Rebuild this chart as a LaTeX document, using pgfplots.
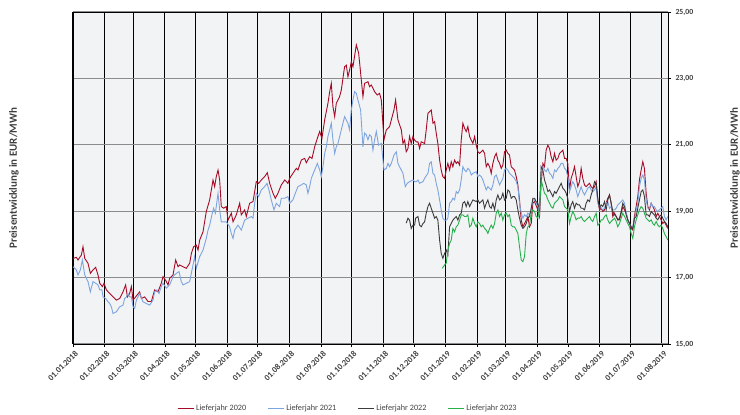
\documentclass[border=0pt]{standalone}
\usepackage{pgfplots}
\pgfplotsset{compat=1.18}
\usepackage{fontspec}
\setmainfont{Carlito}
\definecolor{c20}{RGB}{166,10,38}
\definecolor{c21}{RGB}{124,164,222}
\definecolor{c22}{RGB}{60,60,60}
\definecolor{c23}{RGB}{38,176,76}
\definecolor{bgc}{RGB}{242,243,245}
\definecolor{txt}{RGB}{64,64,64}
\begin{document}
\begin{tikzpicture}
\useasboundingbox (-73pt,-71pt) rectangle (667pt,344pt);
\begin{axis}[
  at={(0,0)}, anchor=south west,
  scale only axis, width=595pt, height=332pt,
  xmin=0, xmax=583, ymin=15, ymax=25,
  axis background/.style={fill=bgc},
  axis line style={black, line width=0.8pt},
  xtick={0,31,59,90,120,151,181,212,243,273,304,334,365,396,424,455,485,516,546,577},
  xticklabels={01.01.2018,01.02.2018,01.03.2018,01.04.2018,01.05.2018,01.06.2018,01.07.2018,01.08.2018,01.09.2018,01.10.2018,01.11.2018,01.12.2018,01.01.2019,01.02.2019,01.03.2019,01.04.2019,01.05.2019,01.06.2019,01.07.2019,01.08.2019},
  ytick={15,17,19,21,23,25},
  xtick pos=bottom, ytick pos=right, yticklabel pos=right,
  tick align=outside, major tick length=3pt,
  tick style={black, line width=0.6pt},
  xmajorgrids, ymajorgrids,
  x grid style={black, line width=1pt},
  y grid style={gray!90, line width=1.2pt},
  xticklabel style={rotate=45, anchor=north east, font=\fontsize{8.4}{10}\selectfont\bfseries, text=txt, inner sep=1pt, yshift=-2pt},
  yticklabel style={font=\fontsize{7.8}{9}\selectfont\bfseries, text=txt, xshift=1pt},
  /pgf/number format/assume math mode=true,
  yticklabel={\pgfmathprintnumber[fixed, fixed zerofill, precision=2, use comma]{\tick}},
  legend style={at={(0.462,-0.193)}, anchor=center, draw=none, fill=none, legend columns=4,
    font=\fontsize{8.2}{10}\selectfont, text=txt, inner sep=0pt,
    /tikz/every even column/.append style={column sep=19pt}},
  legend image code/.code={\draw[#1, line width=1pt] (0pt,0pt) -- (16pt,0pt);},
  every axis plot/.append style={line width=0.9pt},
  clip mode=individual,
]
\addplot[c20] coordinates {(0,17.58)(3.3,17.61)(4.9,17.53)(8.2,17.68)(9.8,17.93)(11.5,17.58)(14.7,17.43)(17.0,17.13)(19.6,17.23)(22.2,17.31)(24.5,17.08)(26.2,16.83)(28.8,16.73)(30.4,16.83)(32.7,16.63)(36.0,16.52)(39.2,16.42)(42.5,16.32)(45.7,16.37)(49.0,16.57)(51.6,16.78)(53.3,16.42)(55.5,16.52)(57.2,16.73)(58.8,16.32)(61.4,16.42)(65.3,16.57)(67.0,16.37)(70.2,16.42)(73.5,16.28)(76.8,16.28)(80.0,16.63)(83.3,16.57)(86.5,16.83)(88.2,17.03)(91.5,16.88)(93.1,16.78)(94.7,16.98)(98.0,17.08)(100.6,17.53)(102.9,17.33)(104.5,17.38)(107.8,17.33)(111.0,17.28)(114.3,17.43)(116.0,17.73)(118.2,17.93)(120.8,17.98)(122.5,17.83)(124.1,18.13)(127.4,18.38)(130.6,18.99)(133.9,19.34)(137.2,19.94)(138.8,19.74)(140.4,20.04)(142.1,20.24)(143.7,19.94)(145.3,19.14)(147.6,19.09)(150.2,19.14)(151.9,18.73)(155.1,18.94)(156.8,18.68)(160.0,18.89)(163.3,19.24)(164.9,18.89)(168.2,19.04)(169.8,18.84)(173.1,19.24)(176.4,19.29)(179.6,19.89)(181.9,19.84)(184.5,19.94)(187.8,20.04)(190.4,20.16)(192.7,19.84)(196.0,19.54)(198.2,19.39)(200.8,19.54)(204.1,19.79)(207.4,19.94)(210.6,19.84)(212.3,19.99)(215.5,20.14)(218.8,20.29)(220.4,20.24)(223.7,20.54)(227.0,20.59)(228.6,20.46)(231.9,20.64)(234.2,20.59)(236.8,20.94)(240.0,21.25)(241.7,21.40)(243.9,21.19)(246.6,21.75)(249.8,22.25)(251.5,22.60)(253.1,22.85)(254.7,22.15)(256.4,21.85)(258.0,22.25)(261.2,22.45)(262.9,22.65)(266.1,23.35)(267.8,23.40)(269.4,23.05)(271.0,23.25)(272.7,23.50)(274.3,23.35)(277.6,24.01)(279.9,23.76)(282.5,22.95)(284.1,22.45)(285.7,22.85)(289.0,22.90)(290.6,22.75)(292.3,22.80)(295.5,22.60)(298.1,22.50)(300.4,22.55)(302.1,22.35)(304.7,21.15)(307.0,21.45)(310.2,21.55)(311.9,21.75)(314.5,22.05)(316.1,22.35)(318.4,21.75)(321.7,21.45)(323.3,21.04)(324.9,21.14)(326.5,20.79)(328.2,20.89)(329.8,21.25)(331.4,21.04)(333.1,21.25)(334.7,21.14)(336.3,21.09)(338.0,21.09)(339.6,20.89)(341.2,21.09)(344.5,21.04)(346.1,21.45)(347.8,21.95)(349.4,22.0)(351.0,22.05)(352.7,21.65)(354.3,21.70)(355.9,21.35)(357.5,21.04)(359.2,20.54)(360.8,20.24)(362.4,20.04)(364.1,19.99)(365.7,20.24)(367.3,20.44)(369.0,20.24)(370.6,20.49)(372.2,20.34)(373.9,20.54)(375.5,20.44)(377.1,20.49)(378.8,20.39)(380.4,21.14)(382.0,21.65)(383.7,21.50)(385.3,21.40)(386.9,21.55)(388.6,21.25)(390.2,21.14)(391.8,21.04)(393.5,21.25)(395.1,20.99)(396.7,20.79)(398.4,20.74)(401.6,20.84)(403.3,20.74)(404.9,20.34)(406.5,20.44)(408.2,20.34)(409.8,20.14)(411.4,20.44)(413.1,20.64)(414.7,20.74)(416.3,20.54)(418.0,20.44)(419.6,20.29)(421.2,20.39)(422.8,20.79)(424.5,20.84)(426.1,20.74)(427.7,20.69)(429.4,20.34)(431.0,20.29)(432.6,20.24)(434.3,20.04)(435.9,19.79)(437.5,19.34)(439.2,18.73)(440.8,18.53)(442.4,18.63)(444.1,18.73)(445.7,18.84)(447.3,18.53)(449.0,18.63)(450.6,19.24)(452.2,19.29)(455.5,19.04)(457.1,18.84)(458.7,19.84)(460.4,20.44)(462.0,20.34)(463.6,20.84)(465.3,20.99)(466.9,20.89)(468.5,20.64)(470.2,20.49)(471.8,20.74)(473.4,20.54)(475.1,20.59)(476.7,20.74)(478.3,20.79)(480.0,20.84)(481.6,20.59)(483.2,20.59)(484.8,20.44)(486.5,19.64)(488.1,19.99)(489.7,20.14)(491.4,20.34)(493.0,20.04)(494.6,19.74)(496.3,19.89)(497.9,20.29)(499.5,19.99)(501.2,19.79)(502.8,19.74)(504.4,19.79)(506.1,19.84)(507.7,19.74)(509.3,19.69)(511.0,19.74)(512.6,19.89)(514.2,19.34)(515.9,19.04)(517.5,19.09)(519.1,18.99)(520.8,19.04)(522.4,19.24)(524.0,19.39)(525.7,19.49)(527.3,19.24)(528.9,18.84)(530.6,18.94)(532.2,18.84)(533.8,18.74)(535.5,18.74)(537.1,18.94)(538.7,19.14)(540.4,19.04)(542.0,18.94)(543.6,18.74)(545.3,18.63)(546.9,18.48)(548.5,18.43)(550.1,18.84)(551.8,19.14)(553.4,19.44)(555.0,19.94)(556.7,20.24)(558.3,20.49)(559.9,20.29)(561.6,19.54)(563.2,19.14)(564.8,19.04)(566.5,19.24)(568.1,19.14)(569.7,19.04)(571.4,18.84)(573.0,18.94)(574.6,18.84)(576.3,18.74)(577.9,18.63)(579.5,18.68)(581.2,18.58)(582.8,18.48)};
\addlegendentry{Lieferjahr 2020}
\addplot[c21] coordinates {(0,17.33)(3.3,17.23)(4.9,17.08)(7.2,17.23)(9.2,17.53)(11.5,17.08)(13.1,16.98)(14.7,16.88)(17.0,16.57)(19.6,16.88)(22.2,16.83)(24.5,16.78)(26.2,16.63)(28.4,16.63)(29.4,16.42)(32.0,16.37)(34.3,16.27)(36.0,16.22)(37.6,16.12)(39.2,15.92)(42.5,15.97)(45.7,16.12)(49.0,16.17)(50.6,16.37)(52.3,16.42)(53.9,16.52)(55.5,16.42)(57.2,16.42)(58.8,16.12)(60.4,16.07)(62.1,16.32)(65.3,16.52)(68.6,16.27)(71.9,16.22)(75.1,16.17)(78.4,16.32)(80.0,16.57)(82.3,16.63)(84.3,16.52)(86.5,16.73)(88.2,16.83)(91.5,16.68)(94.7,16.78)(98.0,17.03)(99.6,17.08)(101.3,17.13)(103.9,17.18)(106.1,16.88)(107.8,16.78)(111.0,16.83)(114.3,16.88)(117.6,17.38)(119.2,17.63)(120.8,17.28)(124.1,17.63)(127.4,17.83)(130.6,18.18)(132.3,18.43)(133.9,18.58)(136.5,18.94)(137.8,19.09)(139.5,18.94)(140.8,19.24)(142.1,19.54)(143.7,19.04)(145.3,18.68)(150.2,18.68)(153.5,18.53)(155.1,18.33)(156.8,18.18)(158.4,18.43)(161.7,18.58)(164.9,18.43)(168.2,18.73)(171.5,18.79)(174.7,18.84)(176.4,18.79)(178.0,19.24)(179.6,19.54)(181.9,19.44)(184.5,19.64)(187.8,19.74)(190.1,19.84)(192.0,19.64)(194.3,19.34)(196.9,19.04)(199.2,19.24)(202.5,19.14)(204.1,19.39)(207.4,19.39)(210.6,19.44)(212.3,19.24)(215.5,19.34)(217.8,19.54)(220.4,19.74)(223.7,19.79)(226.0,19.84)(228.6,19.79)(230.2,19.54)(231.9,19.74)(233.5,19.99)(236.8,20.24)(239.4,20.44)(241.7,20.24)(243.3,20.04)(244.9,20.34)(246.6,20.74)(248.2,20.94)(249.8,21.25)(251.5,21.45)(253.1,21.65)(254.7,21.15)(256.4,20.74)(258.0,20.94)(259.6,21.04)(262.9,21.45)(266.1,21.85)(267.8,21.75)(269.4,21.65)(271.0,21.45)(272.7,22.05)(274.3,22.35)(275.9,22.60)(277.6,22.55)(279.2,22.35)(281.8,22.05)(284.1,20.94)(285.7,21.35)(287.4,21.30)(289.0,21.15)(290.6,21.30)(292.3,21.25)(293.9,20.84)(295.5,21.15)(297.2,21.40)(299.4,20.99)(302.1,21.04)(304.7,20.24)(307.0,20.29)(308.6,20.44)(310.2,20.34)(311.9,20.44)(314.5,20.69)(316.8,20.79)(318.4,20.44)(320.0,20.34)(323.3,20.14)(325.6,19.74)(327.5,19.84)(329.8,19.89)(333.1,19.94)(334.7,19.89)(336.3,19.89)(338.0,19.94)(339.6,19.84)(342.9,19.89)(344.5,19.99)(347.8,20.14)(349.4,20.44)(351.0,20.49)(352.7,20.14)(354.3,20.09)(355.9,19.84)(357.5,19.64)(359.2,19.34)(360.8,19.04)(362.4,18.79)(364.1,18.73)(365.7,18.73)(367.3,18.79)(369.0,19.24)(370.6,19.29)(372.2,19.39)(373.9,19.34)(375.5,19.59)(377.1,19.54)(378.8,19.64)(380.4,19.94)(382.0,20.34)(383.7,20.24)(385.3,20.19)(386.9,20.29)(388.6,20.24)(390.2,20.09)(391.8,20.14)(395.1,20.19)(396.7,20.04)(398.4,20.09)(400.0,20.04)(401.6,19.94)(403.3,19.79)(404.9,19.64)(406.5,19.74)(408.2,19.69)(409.8,19.64)(411.4,19.79)(413.1,20.04)(414.7,20.09)(416.3,19.94)(418.0,19.79)(419.6,19.89)(421.2,19.99)(422.8,20.24)(424.5,20.29)(426.1,20.24)(427.7,20.14)(429.4,20.09)(431.0,20.04)(432.6,19.99)(434.3,19.89)(435.9,19.74)(437.5,19.24)(439.2,18.94)(440.8,18.79)(442.4,18.89)(444.1,18.84)(445.7,18.94)(447.3,18.89)(448.9,19.04)(450.6,19.34)(452.2,19.34)(455.5,19.14)(457.1,18.94)(458.7,20.09)(460.4,20.34)(462.0,20.24)(463.6,20.19)(465.3,20.29)(466.9,20.14)(468.5,20.09)(470.2,19.99)(471.8,20.24)(473.4,20.19)(475.1,20.29)(476.7,20.34)(478.3,20.44)(480.0,20.44)(481.6,20.29)(483.2,20.24)(484.8,20.04)(486.5,19.59)(488.1,19.74)(489.7,19.89)(491.4,19.79)(493.0,19.64)(494.6,19.44)(496.3,19.59)(497.9,19.74)(499.5,19.59)(501.2,19.49)(502.8,19.59)(504.4,19.69)(506.1,19.74)(507.7,19.64)(509.3,19.59)(511.0,19.64)(512.6,19.74)(514.2,19.24)(515.9,19.14)(517.5,19.09)(519.1,19.04)(520.8,19.09)(522.4,19.24)(524.0,19.29)(525.7,19.09)(527.3,19.14)(528.9,19.04)(530.6,19.04)(532.2,19.09)(533.8,19.19)(535.5,19.24)(537.1,19.29)(538.7,19.34)(540.4,19.24)(542.0,18.94)(543.6,18.74)(545.3,18.63)(546.9,18.53)(548.5,18.53)(550.1,18.74)(551.8,19.04)(553.4,19.24)(555.0,19.74)(556.7,19.99)(558.3,20.09)(559.9,19.94)(561.6,19.34)(563.2,19.09)(564.8,19.09)(566.5,19.24)(568.1,19.14)(569.7,19.14)(571.4,19.04)(573.0,18.99)(574.6,19.04)(576.3,19.09)(577.9,19.14)(579.5,18.84)(581.2,18.74)(582.8,18.84)};
\addlegendentry{Lieferjahr 2021}
\addplot[c22] coordinates {(326.5,18.64)(328.2,18.79)(329.8,18.73)(331.4,18.48)(333.1,18.58)(334.7,18.58)(335.7,18.79)(338.0,18.84)(339.6,18.58)(341.2,18.53)(342.9,18.63)(344.5,18.68)(346.1,18.94)(347.8,19.14)(349.4,19.24)(351.0,19.09)(352.7,18.94)(354.3,18.79)(355.9,18.84)(357.5,18.73)(359.2,18.13)(360.8,17.73)(362.4,17.58)(364.1,17.73)(365.7,17.83)(367.3,17.68)(369.0,18.53)(370.6,18.63)(372.2,18.73)(373.9,18.79)(375.5,18.84)(377.1,18.73)(378.8,18.89)(380.4,18.94)(382.0,19.24)(383.7,19.29)(385.3,19.14)(386.9,19.29)(388.6,19.14)(390.2,19.24)(391.8,19.34)(395.1,19.29)(396.7,19.34)(398.4,19.24)(400.0,19.29)(401.6,19.34)(403.3,19.09)(404.9,19.24)(406.5,19.34)(408.2,19.14)(409.8,19.09)(411.4,19.24)(413.1,19.04)(414.7,19.34)(416.3,19.49)(418.0,19.34)(419.6,19.39)(421.2,19.54)(422.8,19.34)(424.5,19.39)(426.1,19.64)(427.7,19.59)(429.4,19.39)(431.0,19.44)(432.6,19.44)(434.3,19.34)(435.9,19.04)(437.5,18.79)(439.2,18.58)(440.8,18.48)(442.4,18.53)(444.1,18.63)(445.7,18.79)(447.3,18.84)(449.0,19.09)(450.6,19.39)(452.2,19.39)(453.8,19.29)(455.5,19.24)(457.1,19.04)(458.7,20.34)(460.4,20.24)(462.0,19.94)(463.6,19.79)(465.3,19.59)(466.9,19.64)(468.5,19.54)(470.2,19.44)(471.8,19.59)(473.4,19.54)(475.1,19.64)(476.7,19.74)(478.3,19.84)(480.0,19.69)(481.6,19.64)(483.2,19.54)(484.8,19.39)(486.5,18.99)(488.1,19.19)(489.7,19.29)(491.4,19.09)(493.0,19.24)(494.6,19.19)(496.3,19.19)(497.9,19.09)(499.5,19.09)(501.2,19.04)(502.8,19.24)(504.4,19.34)(506.1,19.29)(507.7,19.49)(509.3,19.64)(511.0,19.89)(512.6,19.84)(514.2,19.39)(515.9,19.09)(517.5,19.19)(519.1,19.14)(520.8,19.29)(522.4,19.04)(524.0,19.34)(525.7,19.49)(527.3,19.24)(528.9,18.99)(530.6,18.89)(532.2,18.84)(533.8,18.74)(535.5,18.79)(537.1,18.99)(538.7,19.24)(540.4,19.14)(542.0,18.89)(543.6,18.74)(545.3,18.63)(546.9,18.53)(548.5,18.48)(550.1,18.79)(551.8,18.84)(553.4,19.09)(555.0,19.34)(556.7,19.59)(558.3,19.64)(559.9,19.44)(561.6,18.89)(563.2,18.89)(564.8,18.84)(566.5,18.99)(568.1,18.94)(569.7,18.89)(571.4,18.79)(573.0,18.74)(574.6,18.84)(576.3,18.89)(577.9,18.79)(579.5,18.69)(581.2,18.63)(582.8,18.53)};
\addlegendentry{Lieferjahr 2022}
\addplot[c23] coordinates {(361.8,17.28)(364.1,17.38)(365.7,17.43)(367.3,17.83)(369.0,18.03)(370.6,18.13)(372.2,18.48)(373.9,18.38)(375.5,18.53)(377.1,18.58)(378.8,18.73)(380.4,18.89)(382.0,18.89)(383.7,18.84)(385.3,18.84)(386.9,18.89)(388.6,18.53)(390.2,18.58)(391.8,18.79)(393.5,18.63)(395.1,18.53)(396.7,18.68)(398.4,18.63)(400.0,18.53)(401.6,18.58)(403.3,18.48)(404.9,18.43)(406.5,18.33)(408.2,18.48)(409.8,18.58)(411.4,18.48)(413.1,18.63)(414.7,18.94)(416.3,19.04)(418.0,18.84)(419.6,18.94)(421.2,18.73)(422.8,18.89)(424.5,18.94)(426.1,18.84)(427.7,18.89)(429.4,18.58)(431.0,18.53)(432.6,18.53)(434.3,18.43)(435.9,18.33)(437.5,17.93)(439.2,17.53)(440.8,17.48)(442.4,17.63)(444.1,18.33)(445.7,18.53)(447.3,18.58)(449.0,18.94)(450.6,19.04)(452.2,18.99)(453.8,18.84)(455.5,18.79)(457.1,19.14)(458.7,19.94)(460.4,19.74)(462.0,19.54)(463.6,19.49)(465.3,19.34)(466.9,19.24)(468.5,19.14)(470.2,19.09)(471.8,19.24)(473.4,19.29)(475.1,19.34)(476.7,19.44)(478.3,19.39)(480.0,19.34)(481.6,19.14)(483.2,19.09)(484.8,19.04)(486.5,18.63)(488.1,18.84)(489.7,18.99)(491.4,18.89)(493.0,18.74)(494.6,18.79)(496.3,18.79)(497.9,18.84)(499.5,18.74)(501.2,18.69)(502.8,18.74)(504.4,18.79)(506.1,18.84)(507.7,18.74)(509.3,18.69)(511.0,18.84)(512.6,18.94)(514.2,18.58)(515.9,18.63)(517.5,18.74)(519.1,18.74)(520.8,18.84)(522.4,18.89)(524.0,18.74)(525.7,18.63)(527.3,18.69)(528.9,18.74)(530.6,18.79)(532.2,18.69)(533.8,18.53)(535.5,18.63)(537.1,18.79)(538.7,18.94)(540.4,18.84)(542.0,18.74)(543.6,18.63)(545.3,18.53)(546.9,18.33)(548.5,18.18)(550.1,18.53)(551.8,18.74)(553.4,18.89)(555.0,19.04)(556.7,19.14)(558.3,19.09)(559.9,18.94)(561.6,18.79)(563.2,18.74)(564.8,18.69)(566.5,18.74)(568.1,18.63)(569.7,18.58)(571.4,18.69)(573.0,18.58)(574.6,18.53)(576.3,18.58)(577.9,18.48)(579.5,18.33)(581.2,18.23)(582.8,18.13)};
\addlegendentry{Lieferjahr 2023}
\node[rotate=90, anchor=center, font=\fontsize{11}{13}\selectfont\bfseries, text=txt] at (axis description cs:-0.0992,0.5) {Preisentwicklung in EUR/MWh};
\node[rotate=90, anchor=center, font=\fontsize{11}{13}\selectfont\bfseries, text=txt] at (axis description cs:1.1126,0.5) {Preisentwicklung in EUR/MWh};
\end{axis}
\end{tikzpicture}
\end{document}
